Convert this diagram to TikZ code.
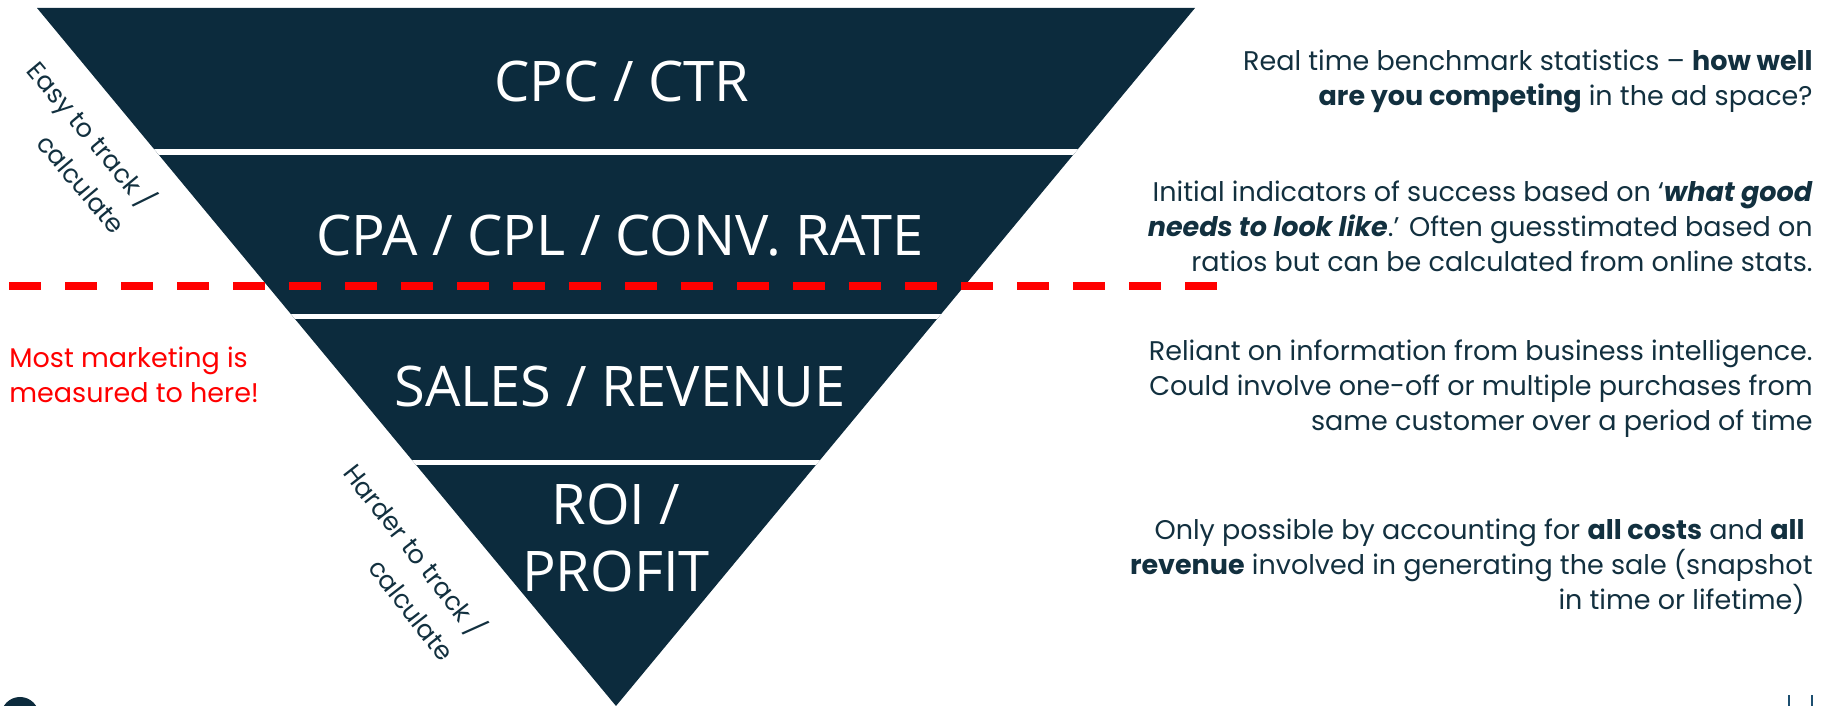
\documentclass[tikz,border=0pt]{standalone}
\usepackage{fontspec}
\setmainfont{Poppins}
\newfontfamily\bandfont{Open Sans}
\usetikzlibrary{positioning}
\definecolor{funnelnavy}{HTML}{0C2B3D}
\definecolor{inknavy}{HTML}{12303F}
\definecolor{alertred}{HTML}{FF0000}
\definecolor{barblue}{HTML}{1D4F70}
\tikzset{
  bandlabel/.style={text=white,font=\bandfont\fontsize{28}{33.5}\selectfont,align=center,inner sep=0pt},
  sidenote/.style={text=inknavy,font=\fontsize{13.5}{17.5}\selectfont,align=right,anchor=east,inner sep=0pt},
  tracknote/.style={text=inknavy,font=\fontsize{12.8}{19.5}\selectfont,align=right,anchor=east,rotate=-50,inner sep=0pt},
  rednote/.style={text=alertred,font=\fontsize{13.5}{17.5}\selectfont,align=left,anchor=west,inner sep=0pt},
  gapline/.style={white,line width=2.75pt},
  cutline/.style={alertred,line width=4pt,dash pattern=on 16pt off 12pt}
}

\begin{document}
\begin{tikzpicture}[x=0.5pt,y=0.5pt]
  \useasboundingbox (0,0) rectangle (1822,706);
  \coordinate (topL) at (37,698);
  \coordinate (topR) at (1195,698);
  \coordinate (tip) at (616,0);
  % funnel, cut into four bands
  \begin{scope}
    \clip (topL) -- (topR) -- (tip) -- cycle;
    \fill[funnelnavy] (0,0) rectangle (1822,706);
    \foreach \y in {554,389.5,243.5}
      \draw[gapline] (0,\y) -- (1822,\y);
  \end{scope}
  \node[bandlabel,anchor=base] (cpc) at (622,604) {CPC / CTR};
  \node[bandlabel,anchor=base] (cpa) at (620,450) {CPA / CPL / CONV. RATE};
  \node[bandlabel,anchor=base] (sales) at (620,299) {SALES / REVENUE};
  \node[bandlabel] (roi) at (616,168) {ROI /\\PROFIT};
  % measured-to line
  \coordinate (cutL) at (9,420);
  \coordinate (cutR) at (1217,420);
  \draw[cutline] (cutL) -- (cutR);
  \node[rednote] (most) at (9,331) {Most marketing is\\measured to here!};
  % along the funnel edge
  \node[tracknote] (easy) at (137,490) {Easy to track /\\calculate};
  \node[tracknote,rotate=-2] (harder) at (466,62) {Harder to track /\\calculate};
  % notes on the right
  \node[sidenote] (n1) at (1813,625)
    {Real time benchmark statistics -- \textbf{how well}\\\textbf{are you competing} in the ad space?};
  \node[sidenote] (n2) at (1813,480)
    {Initial indicators of success based on `\textbf{\textit{what good}}\\\textbf{\textit{needs to look like}}.' Often guesstimated based on\\ratios but can be calculated from online stats.};
  \node[sidenote] (n3) at (1813,317)
    {Reliant on information from business intelligence.\\Could involve one-off or multiple purchases from\\same customer over a period of time};
  \node[sidenote] (n4) at (1813,139)
    {Only possible by accounting for \textbf{all costs} and \textbf{all}\hspace*{4pt}\\\textbf{revenue} involved in generating the sale (snapshot\\in time or lifetime)\hspace*{4pt}};
  % bits at the page foot
  \fill[funnelnavy] (20,-10) circle (19);
  \draw[barblue,line width=1pt] (1789,0) -- (1789,11);
  \draw[barblue,line width=1pt] (1812,0) -- (1812,11);
\end{tikzpicture}
\end{document}
